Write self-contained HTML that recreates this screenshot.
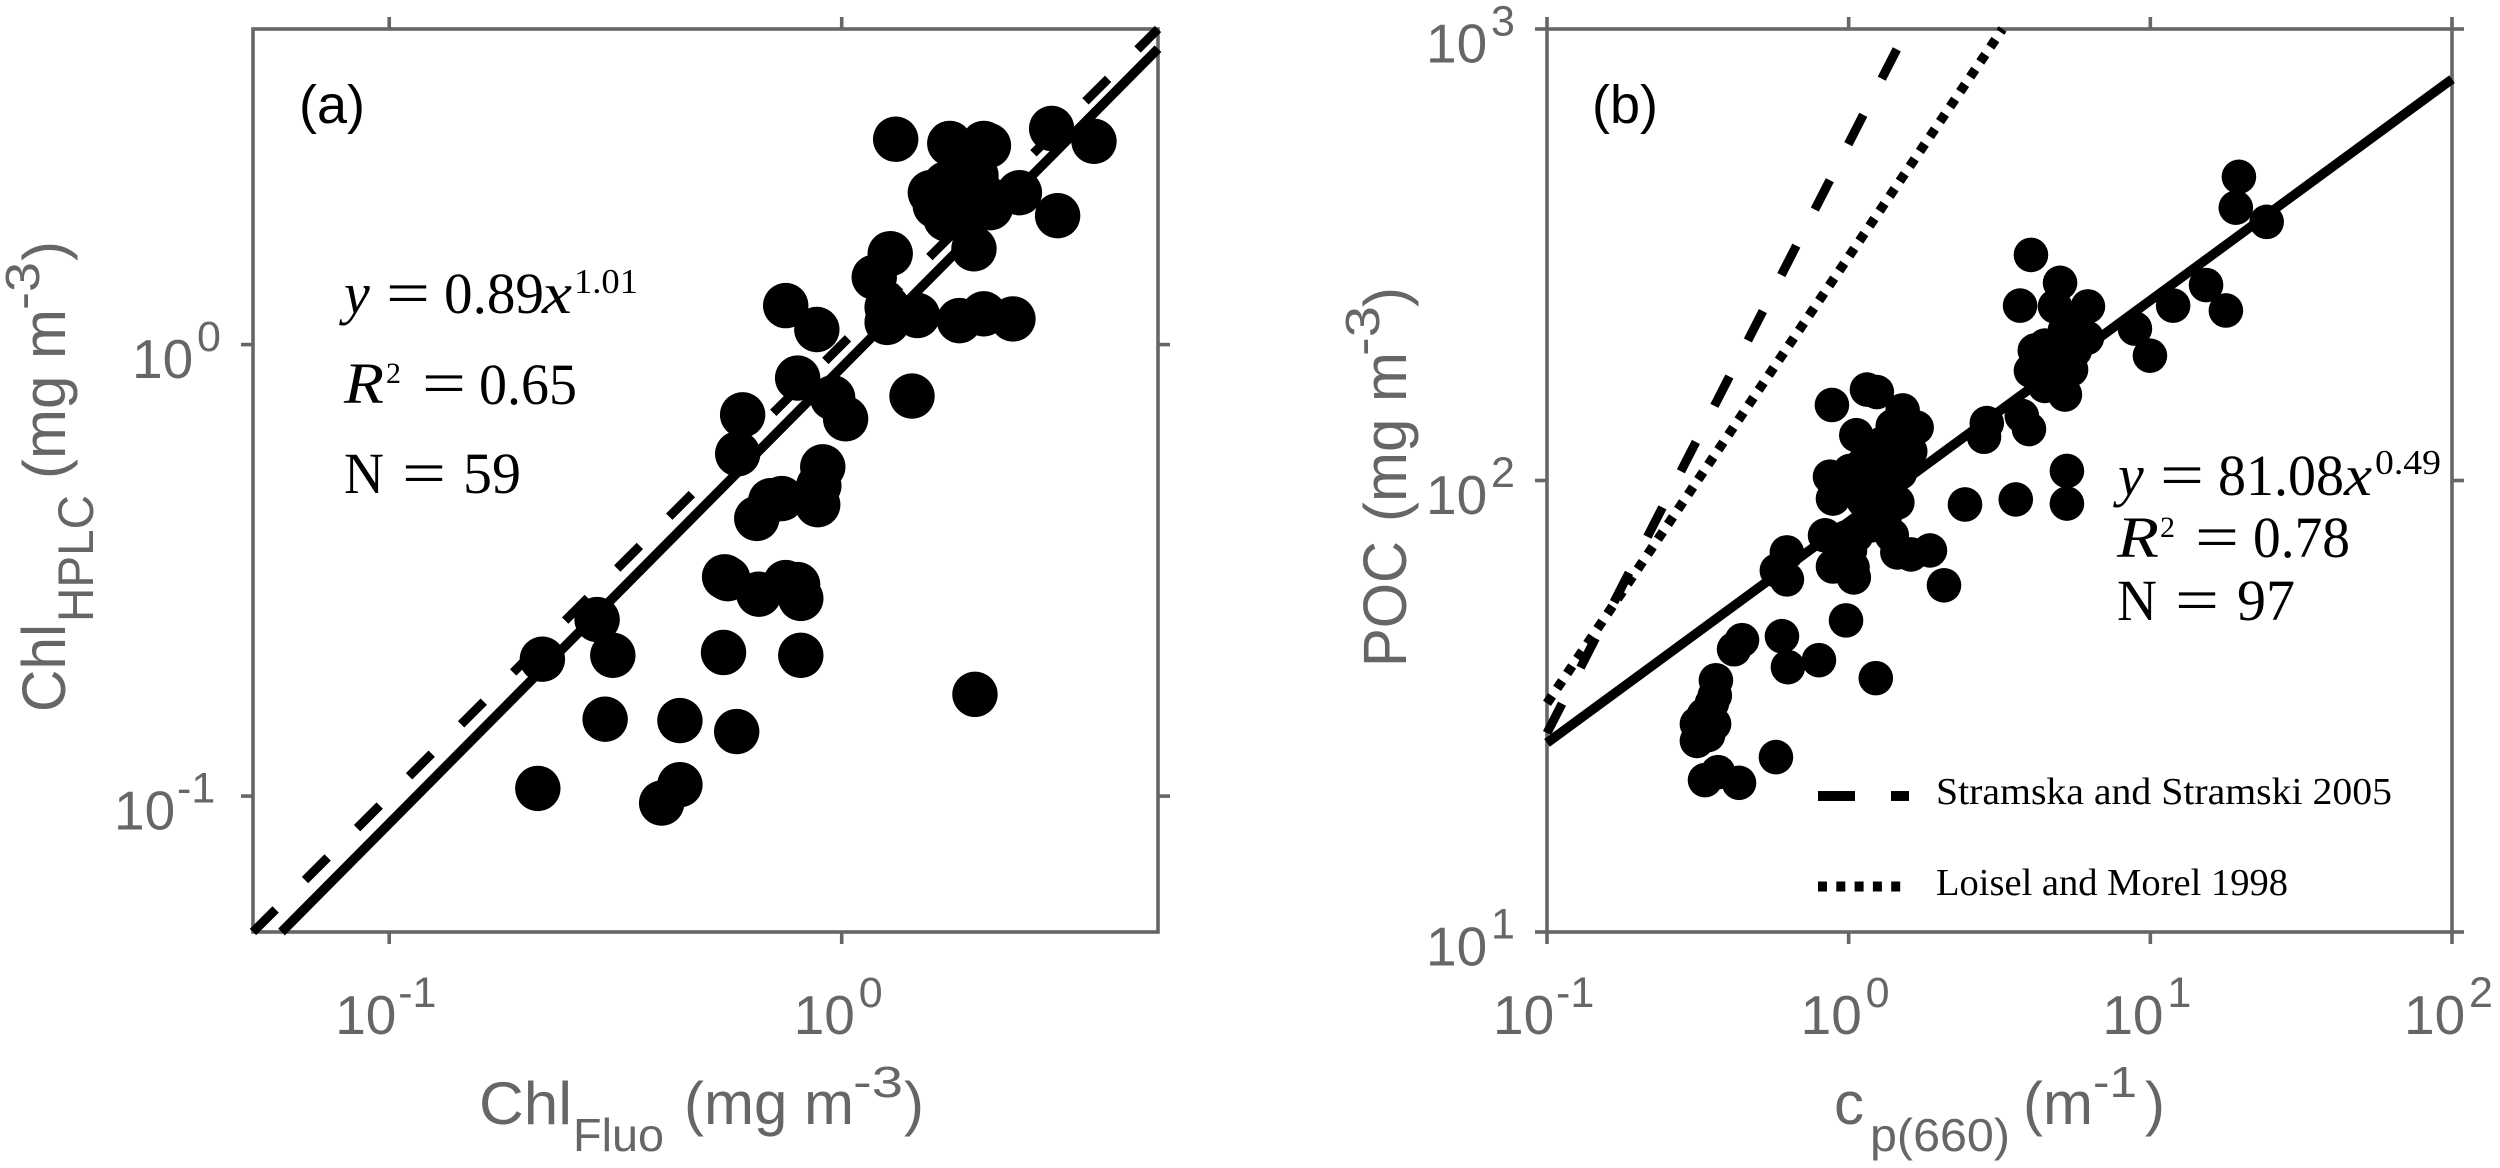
<!DOCTYPE html>
<html lang="en">
<head>
<meta charset="utf-8">
<title>Chlorophyll and POC scatter plots</title>
<style>
html,body{margin:0;padding:0;background:#fff;width:2500px;height:1168px;overflow:hidden}
svg{display:block}
.lab{font-family:"Liberation Sans",sans-serif;fill:#666}
.math{font-family:"Liberation Serif",serif;fill:#000}
.it{font-style:italic}
.tag{font-family:"Liberation Sans",sans-serif;fill:#000;font-size:54px}
</style>
</head>
<body>
<svg id="chart" xmlns="http://www.w3.org/2000/svg" width="2500" height="1168" viewBox="0 0 2500 1168">
  <rect x="0" y="0" width="2500" height="1168" fill="#fff"/>
  <g id="panel-a"></g>
  <g id="panel-b"></g>

  <g class="lab">
    <text x="479" y="1124" font-size="60" textLength="93" lengthAdjust="spacingAndGlyphs">Chl</text>
    <text x="573" y="1151" font-size="46" textLength="91" lengthAdjust="spacingAndGlyphs">Fluo</text>
    <text x="684" y="1124" font-size="60" textLength="170" lengthAdjust="spacingAndGlyphs">(mg m</text>
    <text x="853" y="1097" font-size="44" textLength="50" lengthAdjust="spacingAndGlyphs">-3</text>
    <text x="904" y="1124" font-size="60">)</text>
  </g>
  <g class="lab">
    <text transform="translate(65,712) rotate(-90)" font-size="61" textLength="88" lengthAdjust="spacingAndGlyphs">Chl</text>
    <text transform="translate(93,622) rotate(-90)" font-size="50" textLength="127" lengthAdjust="spacingAndGlyphs">HPLC</text>
    <text transform="translate(65,479) rotate(-90)" font-size="60" textLength="170" lengthAdjust="spacingAndGlyphs">(mg m</text>
    <text transform="translate(39,310) rotate(-90)" font-size="48" textLength="48" lengthAdjust="spacingAndGlyphs">-3</text>
    <text transform="translate(65,261) rotate(-90)" font-size="60">)</text>
  </g>
  <g class="lab">
    <text x="1834" y="1124" font-size="60">c</text>
    <text x="1870" y="1151" font-size="46" textLength="140" lengthAdjust="spacingAndGlyphs">p(660)</text>
    <text x="2023" y="1124" font-size="60">(m</text>
    <text x="2093" y="1097" font-size="44" textLength="44" lengthAdjust="spacingAndGlyphs">-1</text>
    <text x="2145" y="1124" font-size="60">)</text>
  </g>
  <g class="lab">
    <text transform="translate(1406,667) rotate(-90)" font-size="61" textLength="126" lengthAdjust="spacingAndGlyphs">POC</text>
    <text transform="translate(1406,522) rotate(-90)" font-size="60" textLength="170" lengthAdjust="spacingAndGlyphs">(mg m</text>
    <text transform="translate(1379,356) rotate(-90)" font-size="48" textLength="50" lengthAdjust="spacingAndGlyphs">-3</text>
    <text transform="translate(1406,307) rotate(-90)" font-size="60">)</text>
  </g>

  <text class="tag" x="299" y="123" textLength="66" lengthAdjust="spacingAndGlyphs">(a)</text>
  <text class="tag" x="1592" y="123" textLength="66" lengthAdjust="spacingAndGlyphs">(b)</text>

  <g class="math" font-size="58">
    <text class="it" x="344" y="313">y</text>
    <text x="386" y="314" font-size="62" textLength="44" lengthAdjust="spacingAndGlyphs">=</text>
    <text x="444" y="313" textLength="100" lengthAdjust="spacingAndGlyphs">0.89</text>
    <text class="it" x="542" y="313" textLength="30" lengthAdjust="spacingAndGlyphs">x</text>
    <text x="574" y="293" font-size="35" textLength="64" lengthAdjust="spacingAndGlyphs">1.01</text>
  </g>
  <g class="math" font-size="58">
    <text class="it" x="344" y="403" textLength="40" lengthAdjust="spacingAndGlyphs">R</text>
    <text x="386" y="383" font-size="30">2</text>
    <text x="422" y="404" font-size="62" textLength="44" lengthAdjust="spacingAndGlyphs">=</text>
    <text x="479" y="404" textLength="98" lengthAdjust="spacingAndGlyphs">0.65</text>
  </g>
  <g class="math" font-size="58">
    <text x="344" y="493" textLength="40" lengthAdjust="spacingAndGlyphs">N</text>
    <text x="402" y="494" font-size="62" textLength="44" lengthAdjust="spacingAndGlyphs">=</text>
    <text x="463" y="493">59</text>
  </g>
  <g class="math" font-size="58">
    <text class="it" x="2118" y="495">y</text>
    <text x="2160" y="496" font-size="62" textLength="44" lengthAdjust="spacingAndGlyphs">=</text>
    <text x="2218" y="495" textLength="126" lengthAdjust="spacingAndGlyphs">81.08</text>
    <text class="it" x="2344" y="495" textLength="28" lengthAdjust="spacingAndGlyphs">x</text>
    <text x="2375" y="474" font-size="35" textLength="66" lengthAdjust="spacingAndGlyphs">0.49</text>
  </g>
  <g class="math" font-size="58">
    <text class="it" x="2117" y="557" textLength="42" lengthAdjust="spacingAndGlyphs">R</text>
    <text x="2160" y="537" font-size="30">2</text>
    <text x="2195" y="558" font-size="62" textLength="44" lengthAdjust="spacingAndGlyphs">=</text>
    <text x="2253" y="557" textLength="97" lengthAdjust="spacingAndGlyphs">0.78</text>
  </g>
  <g class="math" font-size="58">
    <text x="2117" y="620" textLength="40" lengthAdjust="spacingAndGlyphs">N</text>
    <text x="2175" y="621" font-size="62" textLength="44" lengthAdjust="spacingAndGlyphs">=</text>
    <text x="2237" y="620">97</text>
  </g>

  <g>
    <line x1="1818" y1="796" x2="1855" y2="796" stroke="#000" stroke-width="10"/>
    <line x1="1891" y1="796" x2="1909" y2="796" stroke="#000" stroke-width="10"/>
    <text class="math" x="1936" y="804" font-size="38" textLength="456" lengthAdjust="spacingAndGlyphs">Stramska and Stramski 2005</text>
  </g>
  <g>
    <line x1="1818" y1="886.5" x2="1901" y2="886.5" stroke="#000" stroke-width="10" stroke-dasharray="9 9.3"/>
    <text class="math" x="1936" y="895" font-size="38" textLength="352" lengthAdjust="spacingAndGlyphs">Loisel and Morel 1998</text>
  </g>
</svg>
<script>
// Panel (a) data: Chl fluorometric vs Chl HPLC (mg m-3)
const chlFluo = [1.316,1.733,2.06,2.11,2.91,3.61,2.47,3.00,1.96,1.57,1.70,1.90,2.03,2.13,1.70,1.83,1.77,1.28,1.18,1.26,1.26,1.47,1.82,2.06,2.39,0.752,0.881,0.799,1.43,0.955,1.02,0.604,0.589,0.908,0.890,0.885,0.737,0.697,0.649,0.551,0.560,0.656,0.752,0.799,0.812,0.288,0.218,0.312,0.548,0.812,1.97,0.300,0.439,0.586,0.213,0.439,0.400,1.61,1.98];
const chlHplc = [2.85,2.79,2.79,2.76,3.01,2.82,2.17,1.93,1.63,2.17,2.27,2.19,2.17,2.01,1.90,1.95,2.12,1.59,1.41,1.21,1.12,1.16,1.13,1.17,1.14,1.22,1.08,0.843,0.769,0.762,0.685,0.699,0.573,0.536,0.487,0.442,0.456,0.451,0.412,0.306,0.303,0.280,0.297,0.294,0.274,0.246,0.201,0.205,0.208,0.205,0.168,0.148,0.147,0.139,0.104,0.106,0.0965,2.03,2.37];
const panelAFit = [0.89, 1.01];
const panelAOneToOne = [1, 1];
const panelATicks = [-1, 0];

// Panel (b) data: beam attenuation vs POC
const cp660 = [19.66,19.2,24.3,4.02,5.02,15.3,3.70,4.83,6.21,11.9,17.8,8.89,9.97,5.46,6.16,4.14,4.98,5.46,4.02,4.54,5.21,3.75,3.96,2.87,2.81,5.29,5.29,3.58,2.43,0.880,1.15,1.24,1.51,1.68,1.06,1.60,1.30,1.45,1.12,0.867,0.887,1.45,1.18,1.30,1.15,1.48,1.12,0.835,0.98,1.06,1.39,0.887,1.03,1.04,1.45,1.61,1.86,2.07,0.624,0.578,0.624,0.98,0.601,0.443,0.417,0.797,0.629,1.23,0.363,0.352,0.339,0.358,0.314,0.314,0.574,0.334,0.369,0.433,1.27,1.22,1.37,1.18,1.01,0.957,1.32,1.54,1.40,1.09,1.01,4.47,5.21,4.83,5.62,4.47,0.360,0.342,0.331];
const poc = [470.6,402,374,316,274,271,244,243,243,244,238,217,189,218,207,194,203,176,175,184,155,139,130,134,125,105,88.9,90.8,88.5,147,159,157,143,131,126,116,121,111,109,102,91.2,89.4,87.1,100,98.5,104,90.3,75.6,74.8,75.6,75.6,64.5,64.2,61.0,69.3,68.6,70.0,58.6,69.3,63.2,60.4,49.0,45.2,44.3,42.3,40.0,38.6,36.5,36.1,32.1,30.5,28.9,28.9,26.5,24.4,21.7,22.6,21.4,105,114,95,79.5,70.0,71.8,83.7,126,132,95,105,199,215,189,194,162,33.4,27.3,30.2];
const panelBFit = [81.08, 0.49];
const stramskaFit = [558, 1.306];
const loiselFit = [313, 0.989];
const panelBXTicks = [-1, 0, 1, 2];
const panelBYTicks = [1, 2, 3];

const NS = 'http://www.w3.org/2000/svg';
const GRAY = '#666';

function make(tag, attrs, parent) {
  const el = document.createElementNS(NS, tag);
  for (const k in attrs) el.setAttribute(k, attrs[k]);
  parent.appendChild(el);
  return el;
}

function axes(box, xLim, yLim) {
  const lx0 = Math.log10(xLim[0]), lx1 = Math.log10(xLim[1]);
  const ly0 = Math.log10(yLim[0]), ly1 = Math.log10(yLim[1]);
  return {
    x: v => box.l + (Math.log10(v) - lx0) / (lx1 - lx0) * (box.r - box.l),
    y: v => box.b - (Math.log10(v) - ly0) / (ly1 - ly0) * (box.b - box.t)
  };
}

function drawFrame(g, box) {
  const frame = make('rect', {x: box.l, y: box.t, width: box.r - box.l, height: box.b - box.t, fill: 'none', stroke: GRAY, 'stroke-width': 3.6}, g);
  
  
}

function expWidth(e) { return e < 0 ? 32 : 20; }

function drawTickLabel(g, x, y, e, name) {
  const t = make('g', {class: 'lab'}, g);
  
  
  const base = make('text', {x: x - 5, y: y, 'font-size': 55}, t);
  base.textContent = '10';
  const sup = make('text', {x: x + (e < 0 ? 58 : 60), y: y - 27, 'font-size': 43}, t);
  sup.textContent = String(e);
}

function drawXTicks(g, box, ax, exps, prefix) {
  exps.forEach(e => {
    const px = ax.x(Math.pow(10, e));
    [[box.t, box.t - 12], [box.b, box.b + 12]].forEach(p => {
      const tk = make('line', {x1: px, x2: px, y1: p[0], y2: p[1], stroke: GRAY, 'stroke-width': 3.6}, g);
      
      
    });
    const w = 60 + expWidth(e);
    drawTickLabel(g, px - w / 2 - 3, 1034, e, prefix + '-x-tick-label');
  });
}

function drawYTicks(g, box, ax, exps, prefix) {
  exps.forEach(e => {
    const py = ax.y(Math.pow(10, e));
    [[box.l, box.l - 12], [box.r, box.r + 12]].forEach(p => {
      const tk = make('line', {x1: p[0], x2: p[1], y1: py, y2: py, stroke: GRAY, 'stroke-width': 3.6}, g);
      
      
    });
    const w = 60 + expWidth(e);
    const gap = e < 0 ? 42 : 36;
    drawTickLabel(g, box.l - gap - w, py + 33.5, e, prefix + '-y-tick-label');
  });
}

function drawPowerLine(g, ax, fit, xLim, yLim, dash, width, name) {
  const a = fit[0], b = fit[1];
  let x0 = xLim[0], x1 = xLim[1];
  const atY = y => Math.pow(y / a, 1 / b);
  if (a * Math.pow(x0, b) < yLim[0]) x0 = atY(yLim[0]);
  if (a * Math.pow(x1, b) > yLim[1]) x1 = atY(yLim[1]);
  const attrs = {
    x1: ax.x(x0), y1: ax.y(a * Math.pow(x0, b)),
    x2: ax.x(x1), y2: ax.y(a * Math.pow(x1, b)),
    stroke: '#000', 'stroke-width': width, fill: 'none'
  };
  if (dash) attrs['stroke-dasharray'] = dash;
  const ln = make('line', attrs, g);
  
  
}

function drawPoints(g, ax, xs, ys, r, name) {
  xs.forEach((v, i) => {
    const c = make('circle', {cx: ax.x(v), cy: ax.y(ys[i]), r: r, fill: '#000'}, g);
    
    
  });
}

// Panel (a)
(function () {
  const g = document.getElementById('panel-a');
  const box = {l: 253, r: 1158, t: 29, b: 932};
  const xLim = [0.05, 5], yLim = [0.05, 5];
  const ax = axes(box, xLim, yLim);
  drawFrame(g, box);
  drawXTicks(g, box, ax, panelATicks, 'panel-a');
  drawYTicks(g, box, ax, panelATicks, 'panel-a');
  drawPowerLine(g, ax, panelAOneToOne, xLim, yLim, '32 41.5', 9, 'one-to-one-line');
  drawPowerLine(g, ax, panelAFit, xLim, yLim, null, 9.5, 'panel-a-fit-line');
  drawPoints(g, ax, chlFluo, chlHplc, 22.7, 'panel-a-point');
})();

// Panel (b)
(function () {
  const g = document.getElementById('panel-b');
  const box = {l: 1547, r: 2452, t: 29, b: 932};
  const xLim = [0.1, 100], yLim = [10, 1000];
  const ax = axes(box, xLim, yLim);
  drawFrame(g, box);
  drawXTicks(g, box, ax, panelBXTicks, 'panel-b');
  drawYTicks(g, box, ax, panelBYTicks, 'panel-b');
  drawPowerLine(g, ax, stramskaFit, xLim, yLim, '33 40.5', 9, 'stramska-line');
  drawPowerLine(g, ax, loiselFit, xLim, yLim, '9 9', 9.5, 'loisel-line');
  drawPowerLine(g, ax, panelBFit, xLim, yLim, null, 9.5, 'panel-b-fit-line');
  drawPoints(g, ax, cp660, poc, 17.3, 'panel-b-point');
})();
</script>
</body>
</html>
